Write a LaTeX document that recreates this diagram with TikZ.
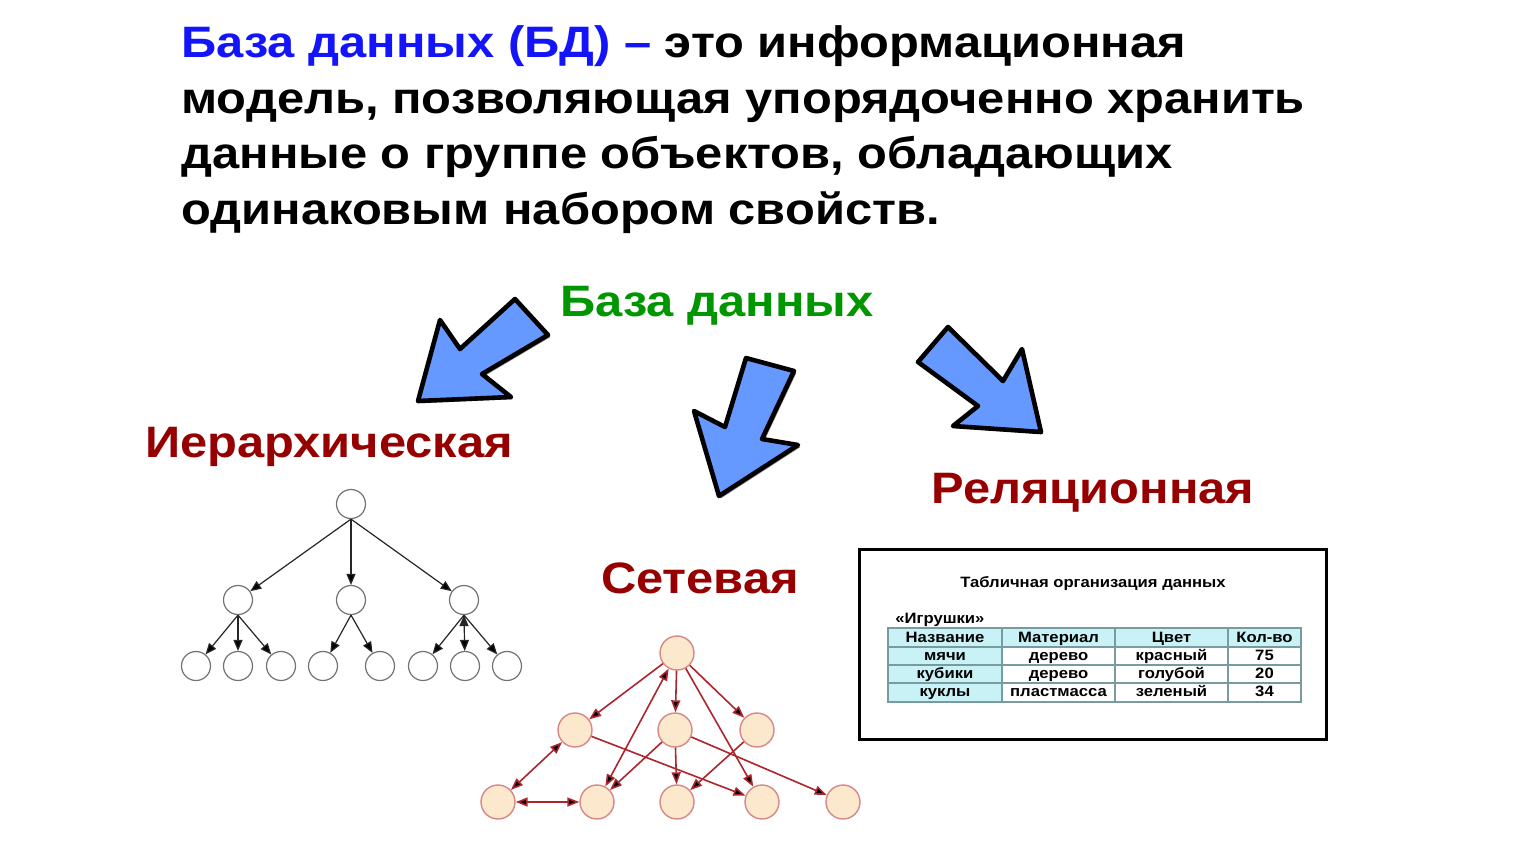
\documentclass[tikz,border=0pt]{standalone}
\usepackage{fontspec}
\setmainfont{Liberation Sans}[FakeStretch=1.11]
\usetikzlibrary{arrows.meta,shadows}

\definecolor{titleblue}{RGB}{20,20,250}
\definecolor{dbgreen}{RGB}{0,150,0}
\definecolor{kindred}{RGB}{150,0,0}
\definecolor{arrowblue}{RGB}{102,153,255}
\definecolor{netfill}{RGB}{252,232,205}
\definecolor{netdraw}{RGB}{215,135,135}
\definecolor{netline}{RGB}{172,38,45}
\definecolor{cellcyan}{RGB}{200,242,246}
\definecolor{cellline}{RGB}{120,155,160}

\begin{document}
\begin{tikzpicture}[x=0.5pt, y=-0.5pt,
    big text/.style={font=\fontsize{22}{26}\selectfont\bfseries, inner sep=0pt, anchor=base west},
    kind label/.style={font=\fontsize{22}{26}\selectfont\bfseries, text=kindred, inner sep=0pt, anchor=base},
    fat arrow/.style={fill=arrowblue, draw=black, line width=2.3pt, line join=round,
                      drop shadow={shadow xshift=1.1pt, shadow yshift=-1.1pt, fill=black, opacity=0.45}},
    tree node/.style={circle, draw=black!55, line width=0.6pt, minimum size=14.5pt, inner sep=0pt},
    net node/.style={circle, draw=netdraw, fill=netfill, line width=0.7pt, minimum size=17pt, inner sep=0pt},
    both ways/.style={{Triangle[length=6pt,width=4.5pt]}-{Triangle[length=6pt,width=4.5pt]}},
    small bold/.style={font=\fontsize{7.5}{9}\selectfont\bfseries, inner sep=0pt}]

  \useasboundingbox (0,0) rectangle (1533,864);
  \fill[white] (0,0) rectangle (1533,864);

  % definition
  \node[big text, text=titleblue] (t1) at (181,57) {База данных (БД) – \textcolor{black}{это информационная}};
  \node[big text] (t2) at (181,113) {модель, позволяющая упорядоченно хранить};
  \node[big text] (t3) at (181,168) {данные о группе объектов, обладающих};
  \node[big text] (t4) at (181,224) {одинаковым набором свойств.};

  \node[kind label, text=dbgreen] (db) at (717,316) {База данных};
  \node[kind label] (hier) at (329,457) {Иерархическая};
  \node[kind label] (net) at (700,593) {Сетевая};
  \node[kind label] (rel) at (1093,503) {Реляционная};

  % block arrows
  \draw[fat arrow] (515,299) -- (548,335) -- (482,374) -- (511,397) -- (418,401)
                   -- (440,320) -- (460,349) -- cycle;
  \draw[fat arrow] (746,358) -- (794,371) -- (762,439) -- (798,445) -- (719,496)
                   -- (694,411) -- (725,427) -- cycle;
  \draw[fat arrow] (948,327) -- (1003,381) -- (1022,349) -- (1041,432) -- (953,426)
                   -- (978,406) -- (918,362) -- cycle;

  % hierarchical tree
  \node[tree node] (r) at (351,504) {};
  \node[tree node] (h1) at (238,600) {};
  \node[tree node] (h2) at (351,600) {};
  \node[tree node] (h3) at (464,600) {};
  \node[tree node] (h11) at (196,666) {};
  \node[tree node] (h12) at (238,666) {};
  \node[tree node] (h13) at (281,666) {};
  \node[tree node] (h21) at (323,666) {};
  \node[tree node] (h22) at (380,666) {};
  \node[tree node] (h31) at (423,666) {};
  \node[tree node] (h32) at (465,666) {};
  \node[tree node] (h33) at (507,666) {};

  \path[draw=black!85, line width=0.6pt, -{Triangle[length=5.5pt,width=4.5pt]}]
  (r.south) edge (h1)
  (r.south) edge (h2)
  (r.south) edge (h3)
  (h1.south) edge (h11)
  (h1.south) edge (h12)
  (h1.south) edge (h13)
  (h2.south) edge (h21)
  (h2.south) edge (h22)
  (h3.south) edge (h31)
  (h3.south) edge (h32)
  (h3.south) edge (h33);

  % network
  \node[net node] (n0) at (677,653) {};
  \node[net node] (m1) at (575,730) {};
  \node[net node] (m2) at (675,730) {};
  \node[net node] (m3) at (757,730) {};
  \node[net node] (b1) at (498,802) {};
  \node[net node] (b2) at (597,802) {};
  \node[net node] (b3) at (677,802) {};
  \node[net node] (b4) at (762,802) {};
  \node[net node] (b5) at (843,802) {};

  \path[draw=netline, line width=0.8pt, -{Triangle[length=6pt,width=4.5pt]}]
  (n0) edge (m1)
  (n0) edge[both ways] (b2)
  (n0) edge (m2)
  (n0) edge (m3)
  (n0) edge (b4)
  (m1) edge[both ways] (b1)
  (b1) edge[both ways] (b2)
  (m1) edge (b4)
  (m2) edge (b2)
  (m2) edge (b3)
  (m2) edge (b5)
  (m3) edge (b3);

  % table
  \draw[line width=1.5pt] (859,549) rectangle (1326,739);
  \node[small bold, anchor=base] (tcap) at (1093,587) {Табличная организация данных};
  \node[small bold, anchor=base west] (toys) at (895,623) {«Игрушки»};

  \fill[cellcyan] (888,628) rectangle (1301,647);
  \fill[cellcyan] (888,647) rectangle (1002,702);
  \draw[cellline, line width=0.6pt] (888,628) rectangle (1301,702);
  \foreach \x in {1002,1115,1228}
    \draw[cellline, line width=0.6pt] (\x,628) -- (\x,702);
  \foreach \y in {647,665,683}
    \draw[cellline, line width=0.6pt] (888,\y) -- (1301,\y);

  \foreach \a/\b/\c/\d [count=\i] in {Название/Материал/Цвет/Кол-во,
      мячи/дерево/красный/75, кубики/дерево/голубой/20, куклы/пластмасса/зеленый/34} {
    \pgfmathsetmacro\yy{623.7+18.3*\i}
    \node[small bold, anchor=base] (c\i-1) at (945,\yy) {\a};
    \node[small bold, anchor=base] (c\i-2) at (1058.5,\yy) {\b};
    \node[small bold, anchor=base] (c\i-3) at (1171.5,\yy) {\c};
    \node[small bold, anchor=base] (c\i-4) at (1264.5,\yy) {\d};
  }

\end{tikzpicture}
\end{document}
